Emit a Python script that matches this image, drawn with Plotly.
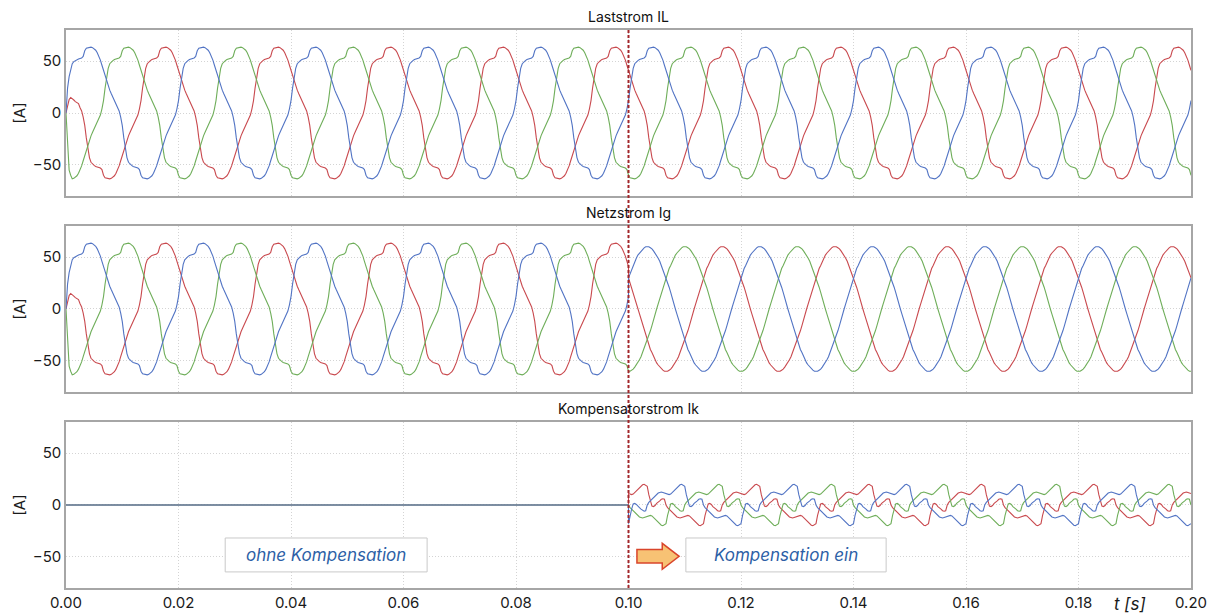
import plotly.graph_objects as go

# ---------------------------------------------------------------------------
# Waveform data (one 20 ms period, sampled every 5 degrees = 72 samples).
# Values in ampere for phase L1; L2 / L3 are the same shape shifted by 120 deg.
# ---------------------------------------------------------------------------
PERIOD = 0.02          # 50 Hz
N_PER = 72             # samples per period
T_SWITCH = 0.10        # compensator switched on
N_PERIODS = 10         # 0 ... 0.2 s

# Load current of the rectifier load (distorted)
load_period = [
    12, 24, 35, 43, 47.5, 49.5, 50.5, 51.5, 52, 52.5, 53, 54.5,
    60, 62.5, 63, 63.5, 63.5, 63, 62, 60.5, 58, 55, 51, 46,
    41, 35.5, 30.5, 26, 22, 18.5, 15.5, 12.5, 9, 5, 2, -4,
    -12, -24, -35, -43, -47.5, -49.5, -50.5, -51.5, -52, -52.5, -53, -54.5,
    -60, -62.5, -63, -63.5, -63.5, -63, -62, -60.5, -58, -55, -51, -46,
    -41, -35.5, -30.5, -26, -22, -18.5, -15.5, -12.5, -9, -5, -2, 4,
]

# Grid current with active compensation (sinusoidal)
grid_period = [
    30, 34, 39, 42, 46, 49, 52, 54, 56, 58, 59, 60,
    60, 60, 59, 58, 56, 54, 52, 49, 46, 42, 39, 34,
    30, 25, 21, 16, 10, 5, 0, -5, -10, -16, -21, -25,
    -30, -34, -39, -42, -46, -49, -52, -54, -56, -58, -59, -60,
    -60, -60, -59, -58, -56, -54, -52, -49, -46, -42, -39, -34,
    -30, -25, -21, -16, -10, -5, 0, 5, 10, 16, 21, 25,
]

# Compensator current (harmonic part of the load current)
comp_period = [
    -18, -10, -4, 1, 1.5, 0.5, -1.5, -2.5, -4, -5.5, -6, -5.5,
    0, 2.5, 4, 5.5, 7.5, 9, 10, 11.5, 12, 12.5, 12, 11.5,
    11, 10.5, 10, 10.5, 12, 13.5, 15.5, 17, 18.5, 19.5, 20, 19,
    18, 10, 4, -1, -1.5, -0.5, 1.5, 2.5, 4, 5.5, 6, 5.5,
    0, -2.5, -4, -5.5, -7.5, -9, -10, -11.5, -12, -12.5, -12, -11.5,
    -11, -10.5, -10, -10.5, -12, -13.5, -15.5, -17, -18.5, -19.5, -20, -19,
]

# Start-up of the simulation (first samples after t = 0)
startup_load = {
    "L1": [0],
    "L2": [0, -35, -55, -60],
    "L3": [0, 8, 13, 15, 14, 12.5, 11, 10],
}

phase_shift = {"L1": 0, "L2": -24, "L3": 24}   # in samples (120 deg = 24)
phase_color = {"L1": "#5274c4", "L2": "#6fae5a", "L3": "#c94a4f"}
draw_order = ["L3", "L2", "L1"]

panel_titles = ["Laststrom IL", "Netzstrom Ig", "Kompensatorstrom Ik"]
x_ticks = [0.00, 0.02, 0.04, 0.06, 0.08, 0.10, 0.12, 0.14, 0.16, 0.18, 0.20]
y_ticks = [-50, 0, 50]


def repeat_period(period, shift, count):
    """Steady-state samples of a periodic waveform for `count` samples."""
    return [period[(k + shift) % N_PER] for k in range(count)]


n_total = N_PERIODS * N_PER + 1
k_switch = int(round(T_SWITCH / PERIOD)) * N_PER
dt = PERIOD / N_PER
t = [k * dt for k in range(n_total)]

series = {}
for ph in draw_order:
    load = repeat_period(load_period, phase_shift[ph], n_total)
    for i, v in enumerate(startup_load[ph]):
        load[i] = v
    grid = repeat_period(grid_period, phase_shift[ph], n_total)
    comp = repeat_period(comp_period, phase_shift[ph], n_total)
    t_sw = t[:k_switch + 1] + t[k_switch:]
    series[ph] = {
        "IL": (t, load),
        "Ig": (t_sw, load[:k_switch + 1] + grid[k_switch:]),
        "Ik": (t_sw, [0.0] * (k_switch + 1) + comp[k_switch:]),
    }

# ---------------------------------------------------------------------------
# Figure
# ---------------------------------------------------------------------------
FONT = "Inter, Roboto, Liberation Sans, sans-serif"
fig = go.Figure()

domains = [[0.7025, 1.0], [0.3513, 0.6487], [0.0, 0.2975]]
keys = ["IL", "Ig", "Ik"]

for row, key in enumerate(keys, start=1):
    suffix = "" if row == 1 else str(row)
    for ph in draw_order:
        tx, ty = series[ph][key]
        fig.add_trace(go.Scatter(
            x=tx, y=ty, mode="lines",
            line=dict(color=phase_color[ph], width=1.1),
            xaxis="x" + suffix, yaxis="y" + suffix,
            showlegend=False, hoverinfo="skip",
        ))

axis_common = dict(
    showline=True, linecolor="#a6a6a6", linewidth=1.5, mirror=True,
    showgrid=True, gridcolor="#d4d4d4", griddash="1px,2px", gridwidth=1,
    zeroline=False, ticks="", automargin=False,
    tickfont=dict(family=FONT, size=15, color="#1a1a1a"),
)

layout = dict(
    width=1210, height=614,
    margin=dict(l=66, r=19, t=30, b=26),
    plot_bgcolor="white", paper_bgcolor="white",
    font=dict(family=FONT, color="#1a1a1a"),
)

for row in range(1, 4):
    suffix = "" if row == 1 else str(row)
    xname = "xaxis" + suffix
    yname = "yaxis" + suffix
    layout[xname] = dict(
        axis_common, domain=[0, 1], range=[0, 0.2],
        tickvals=x_ticks, tickformat=".2f",
        showticklabels=(row == 3),
        anchor="y" + suffix,
    )
    if row > 1:
        layout[xname]["matches"] = "x"
    layout[yname] = dict(
        axis_common, domain=domains[row - 1], range=[-80, 80],
        tickvals=y_ticks, anchor="x" + suffix,
        title=dict(text="[A]", font=dict(family=FONT, size=15, color="#1a1a1a"),
                   standoff=3),
    )

fig.update_layout(**layout)

annotations = []
for row, title in enumerate(panel_titles):
    annotations.append(dict(
        text=title, x=0.5, y=domains[row][1], xref="paper", yref="paper",
        xanchor="center", yanchor="bottom", yshift=3, showarrow=False,
        font=dict(family=FONT, size=14, color="#111111"),
    ))

# time axis label
annotations.append(dict(
    text="<i>t [s]</i>", x=0.9458, y=0, xref="paper", yref="paper",
    xanchor="center", yanchor="top", yshift=-4, showarrow=False,
    font=dict(family=FONT, size=17, color="#1a1a1a"),
))

# info boxes in the compensator panel
boxes = [
    ("ohne Kompensation", 0.0283, 0.0642),
    ("Kompensation ein", 0.1102, 0.1458),
]
shapes = []
for text, x0, x1 in boxes:
    shapes.append(dict(
        type="rect", xref="x3", yref="y3", x0=x0, x1=x1, y0=-64.5, y1=-31.8,
        line=dict(color="#c9c9c9", width=1), fillcolor="white", layer="above",
    ))
    annotations.append(dict(
        text="<i>" + text + "</i>", x=(x0 + x1) / 2, y=-48.5, xref="x3", yref="y3",
        xanchor="center", yanchor="middle", showarrow=False,
        font=dict(family=FONT, size=17, color="#2d5fa6"),
    ))

# arrow pointing to the "Kompensation ein" box
ax0, ax_head, ax1 = 0.1015, 0.1060, 0.1090
shapes.append(dict(
    type="path", xref="x3", yref="y3",
    path=(f"M {ax0},-43 L {ax_head},-43 L {ax_head},-37 L {ax1},-49.5 "
          f"L {ax_head},-62 L {ax_head},-56 L {ax0},-56 Z"),
    line=dict(color="#d9452b", width=1.5), fillcolor="#f7c274", layer="above",
))

# switching instant
shapes.append(dict(
    type="line", xref="x", yref="paper", x0=T_SWITCH, x1=T_SWITCH, y0=0, y1=1,
    line=dict(color="#a3262a", width=2, dash="3px,2px"), layer="above",
))

fig.update_layout(annotations=annotations, shapes=shapes)

fig.write_html("out.html")
